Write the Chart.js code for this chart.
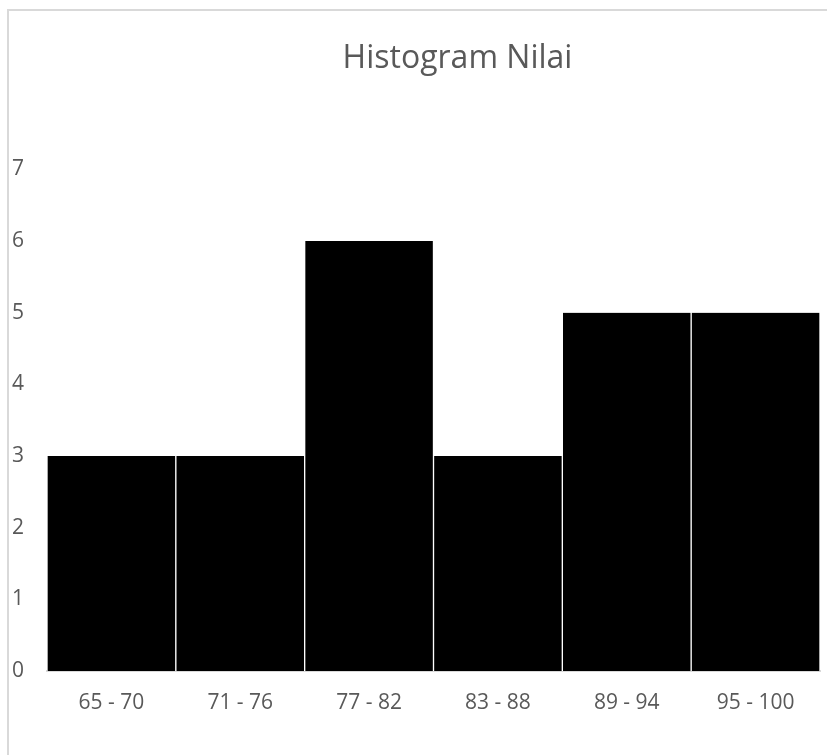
<!DOCTYPE html>
<html>
<head>
<meta charset="utf-8">
<script src="https://cdn.jsdelivr.net/npm/chart.js@4/dist/chart.umd.min.js"></script>
<style>
  html,body{ margin:0; padding:0; background:#fff; overflow:hidden; width:827px; height:755px; }
  .frame{ position:absolute; left:7px; top:9px; width:1000px; height:900px;
          border-left:2px solid #d9d9d9; border-top:2px solid #d9d9d9; }
  .box{ position:absolute; left:9px; top:11px; width:897px; height:744px; }
</style>
</head>
<body>
<div class="frame"></div>
<div class="box"><canvas id="c"></canvas></div>
<script>
// ── data ────────────────────────────────────────────
const bins   = ["65 - 70","71 - 76","77 - 82","83 - 88","89 - 94","95 - 100"];
const counts = [3, 3, 6, 3, 5, 5];
const yTicks = [0, 1, 2, 3, 4, 5, 6, 7];

const INK = "#595959", LINE = "#d9d9d9";
const FONT = "'Open Sans', 'Noto Sans', sans-serif";

new Chart(document.getElementById("c"), {
  type: "bar",
  data: {
    labels: bins,
    datasets: [{
      label: "Frekuensi",
      data: counts,
      backgroundColor: "#000",
      borderColor: "#fff",
      borderWidth: { left: 1, right: 1, top: 0, bottom: 0 },
      borderSkipped: false,
      categoryPercentage: 1,
      barPercentage: 1,
    }],
  },
  options: {
    responsive: true, maintainAspectRatio: false, animation: false,
    layout: { padding: { left: 3, right: 3, top: 0, bottom: 0 } },
    plugins: {
      legend: { display: false },
      tooltip: { enabled: false },
      title: {
        display: true, text: "Histogram Nilai", color: INK,
        font: { family: FONT, size: 32, weight: "normal" },
        padding: { top: 29, bottom: 91 },
      },
    },
    scales: {
      x: {
        grid: { display: false, drawTicks: false },
        border: { display: true, color: LINE, width: 2 },
        ticks: { color: INK, font: { family: FONT, size: 21 }, padding: 19, maxRotation: 0 },
        afterFit: s => { s.height = 84; },
      },
      y: {
        min: yTicks[0], max: yTicks[yTicks.length - 1],
        grid: { display: false, drawTicks: false },
        border: { display: false },
        afterBuildTicks: s => { s.ticks = yTicks.map(v => ({ value: v })); },
        ticks: { color: INK, font: { family: FONT, size: 21 }, crossAlign: "far", padding: 0 },
        afterFit: s => { s.width = 35; },
      },
      // empty space on the right, the chart continues past the crop
      yRight: {
        position: "right",
        grid: { display: false, drawTicks: false },
        border: { display: false },
        ticks: { display: false },
        afterFit: s => { s.width = 83; },
      },
    },
  },
});
</script>
</body>
</html>
